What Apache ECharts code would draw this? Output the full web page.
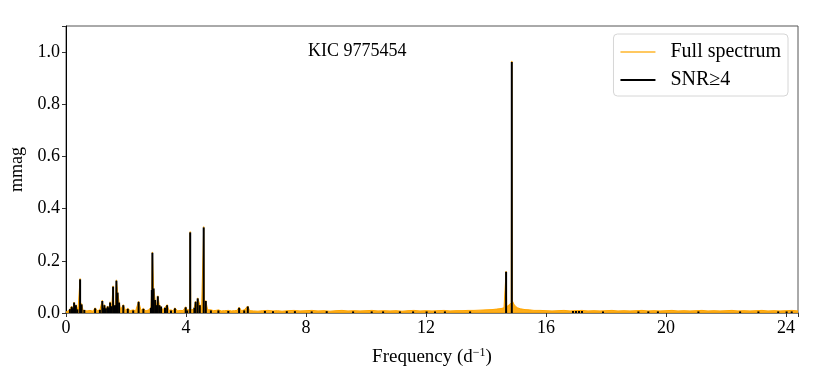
<!DOCTYPE html>
<html>
<head>
<meta charset="utf-8">
<title>KIC 9775454</title>
<script src="https://cdn.jsdelivr.net/npm/echarts@6.0.0/dist/echarts.min.js"></script>
<style>
  html, body { margin: 0; padding: 0; background: #fff; }
  #chart { width: 830px; height: 369px; }
</style>
</head>
<body>
<div id="chart"></div>
<script>
// full amplitude spectrum (frequency in d^-1, amplitude in mmag)
const fullFreq = [
  0.00, 0.10, 0.19, 0.23, 0.27, 0.30, 0.33, 0.40, 0.45, 0.47, 0.49, 0.52, 0.57, 0.61, 0.70, 0.80, 0.90,
  0.97, 1.05, 1.13, 1.21, 1.25, 1.28, 1.33, 1.39, 1.43, 1.47, 1.52, 1.55, 1.57, 1.59, 1.64, 1.66, 1.68, 1.72,
  1.77, 1.82, 1.91, 1.98, 2.06, 2.14, 2.24, 2.32, 2.42, 2.50, 2.58, 2.66, 2.75, 2.83, 2.86, 2.88,
  2.92, 2.97, 3.01, 3.06, 3.11, 3.17, 3.23, 3.30, 3.37, 3.43, 3.50, 3.57, 3.63, 3.72, 3.80, 3.90,
  3.99, 4.04, 4.09, 4.12, 4.14, 4.16, 4.19, 4.26, 4.32, 4.36, 4.39, 4.46, 4.52, 4.57, 4.59, 4.61, 4.66, 4.72, 4.83,
  4.92, 5.00, 5.08, 5.18, 5.28, 5.41, 5.52, 5.62, 5.70, 5.77, 5.85, 5.94, 6.00, 6.06, 6.12, 6.25,
  6.40, 6.55, 6.73, 6.90, 7.05, 7.20, 7.40, 7.60, 7.80, 8.00, 8.20, 8.40, 8.60, 8.80, 9.00, 9.20,
  9.40, 9.60, 9.80, 10.00, 10.20, 10.40, 10.60, 10.80, 11.00, 11.20, 11.40, 11.60, 11.80, 12.00,
  12.20, 12.40, 12.60, 12.80, 13.00, 13.20, 13.40, 13.60, 13.80, 14.00, 14.20, 14.35, 14.50, 14.60,
  14.65, 14.67, 14.69, 14.73, 14.78, 14.84, 14.86, 14.88, 14.93, 14.98, 15.05, 15.15, 15.30, 15.45, 15.60, 15.80,
  16.00, 16.20, 16.40, 16.60, 16.80, 17.00, 17.20, 17.40, 17.60, 17.80, 18.00, 18.20, 18.40, 18.60,
  18.80, 19.00, 19.20, 19.40, 19.60, 19.80, 20.00, 20.20, 20.40, 20.60, 20.80, 21.00, 21.20, 21.40,
  21.60, 21.80, 22.00, 22.20, 22.40, 22.60, 22.80, 23.00, 23.20, 23.40, 23.60, 23.80, 24.00, 24.20,
  24.40
];
const fullAmp = [
  0.004, 0.010, 0.026, 0.012, 0.042, 0.015, 0.032, 0.012, 0.014, 0.132, 0.015, 0.036, 0.010, 0.014, 0.008, 0.010, 0.007,
  0.020, 0.009, 0.012, 0.049, 0.014, 0.032, 0.012, 0.027, 0.014, 0.043, 0.020, 0.022, 0.104, 0.030, 0.020, 0.024, 0.127, 0.081,
  0.042, 0.012, 0.032, 0.010, 0.018, 0.009, 0.012, 0.008, 0.045, 0.010, 0.018, 0.008, 0.012, 0.020, 0.090, 0.234,
  0.096, 0.052, 0.020, 0.066, 0.032, 0.027, 0.012, 0.022, 0.032, 0.010, 0.012, 0.008, 0.020, 0.008, 0.010, 0.009,
  0.024, 0.012, 0.010, 0.012, 0.312, 0.012, 0.012, 0.014, 0.045, 0.020, 0.058, 0.032, 0.012, 0.014, 0.331, 0.015, 0.048, 0.012, 0.012,
  0.009, 0.010, 0.012, 0.008, 0.009, 0.010, 0.008, 0.009, 0.010, 0.022, 0.009, 0.012, 0.010, 0.027, 0.009, 0.008,
  0.007, 0.009, 0.010, 0.008, 0.009, 0.007, 0.009, 0.010, 0.008, 0.009, 0.010, 0.008, 0.009, 0.007, 0.009, 0.010,
  0.008, 0.009, 0.008, 0.009, 0.010, 0.008, 0.009, 0.008, 0.009, 0.007, 0.009, 0.010, 0.008, 0.009,
  0.008, 0.009, 0.010, 0.008, 0.009, 0.009, 0.010, 0.010, 0.011, 0.012, 0.013, 0.015, 0.017, 0.020,
  0.022, 0.160, 0.024, 0.028, 0.032, 0.040, 0.966, 0.046, 0.034, 0.026, 0.020, 0.016, 0.013, 0.012, 0.010, 0.010,
  0.009, 0.008, 0.009, 0.010, 0.008, 0.009, 0.010, 0.008, 0.009, 0.008, 0.009, 0.010, 0.008, 0.009,
  0.008, 0.009, 0.010, 0.008, 0.009, 0.008, 0.009, 0.010, 0.008, 0.009, 0.008, 0.009, 0.010, 0.008,
  0.009, 0.008, 0.009, 0.010, 0.008, 0.009, 0.008, 0.009, 0.010, 0.008, 0.009, 0.008, 0.009, 0.010,
  0.008
];

// peaks with SNR >= 4
const snrFreq = [
  0.13, 0.19, 0.23, 0.27, 0.33, 0.38, 0.47, 0.52, 0.61, 0.97, 1.13, 1.21, 1.25, 1.28, 1.33, 1.39,
  1.43, 1.47, 1.52, 1.57, 1.61, 1.64, 1.68, 1.72, 1.77, 1.91, 2.06, 2.24, 2.42, 2.58, 2.83, 2.86,
  2.88, 2.92, 2.97, 3.01, 3.06, 3.11, 3.17, 3.30, 3.37, 3.50, 3.63, 3.99, 4.04, 4.14, 4.28, 4.32,
  4.39, 4.46, 4.59, 4.66, 4.83, 5.08, 5.41, 5.77, 5.94, 6.06, 6.63, 6.90, 7.36, 7.63, 8.19, 8.69,
  9.57, 10.19, 10.57, 11.13, 11.57, 12.02, 12.30, 12.63, 13.47, 14.67, 14.86, 16.90, 17.00, 17.10,
  17.20, 17.90, 19.08, 19.41, 19.73, 21.08, 22.47, 23.08, 23.74, 24.02, 24.19
];
const snrAmp = [
  0.015, 0.024, 0.018, 0.040, 0.030, 0.014, 0.129, 0.033, 0.012, 0.018, 0.012, 0.046, 0.020, 0.030, 0.018, 0.025,
  0.020, 0.040, 0.026, 0.101, 0.028, 0.030, 0.124, 0.078, 0.040, 0.030, 0.016, 0.010, 0.043, 0.016, 0.020, 0.088,
  0.231, 0.094, 0.050, 0.030, 0.064, 0.030, 0.025, 0.020, 0.030, 0.010, 0.018, 0.022, 0.010, 0.309, 0.020, 0.043,
  0.056, 0.030, 0.328, 0.046, 0.010, 0.010, 0.008, 0.020, 0.010, 0.025, 0.008, 0.007, 0.007, 0.007, 0.006, 0.007,
  0.006, 0.006, 0.006, 0.006, 0.006, 0.006, 0.006, 0.006, 0.006, 0.158, 0.962, 0.008, 0.008, 0.008,
  0.008, 0.006, 0.006, 0.006, 0.006, 0.006, 0.006, 0.006, 0.006, 0.006, 0.006
];

const xTicks = [0, 4, 8, 12, 16, 20, 24];
const yTicks = [0, 0.2, 0.4, 0.6, 0.8, 1.0];

const serif = "Liberation Serif";

const chart = echarts.init(document.getElementById("chart"));

chart.setOption({
  animation: false,
  backgroundColor: "#fff",
  textStyle: { fontFamily: serif },
  title: {
    text: "KIC 9775454",
    left: 303,
    top: 37,
    textStyle: { fontFamily: serif, fontSize: 18, fontWeight: "normal", color: "#000" },
  },
  grid: {
    left: 66,
    right: 32,
    top: 26,
    bottom: 56,
    outerBoundsMode: "none",
    containLabel: false,
    show: true,
    borderColor: "#555",
    borderWidth: 1,
  },
  legend: {
    orient: "vertical",
    right: 42,
    top: 34,
    padding: [8, 7, 6, 7],
    itemGap: 8,
    itemWidth: 35,
    itemHeight: 2,
    backgroundColor: "#fff",
    borderColor: "#d6d6d6",
    borderWidth: 1,
    borderRadius: 4,
    textStyle: { fontFamily: serif, fontSize: 20, color: "#000", padding: [0, 0, 0, 10] },
    data: [
      { name: "Full spectrum", icon: "rect", itemStyle: { color: "#FFC860" } },
      { name: "SNR\u22654", icon: "rect", itemStyle: { color: "#000" } },
    ],
  },
  xAxis: {
    type: "value",
    min: 0,
    max: 24.4,
    interval: 4,
    name: "Frequency (d{sup|\u22121})",
    nameLocation: "middle",
    nameGap: 34,
    nameTextStyle: {
      fontFamily: serif,
      fontSize: 19,
      color: "#000",
      rich: { sup: { fontFamily: serif, fontSize: 12, verticalAlign: "top", padding: [0, 0, 8, 0] } },
    },
    axisLine: { show: true, onZero: false, lineStyle: { color: "#7a7a7a", width: 2 } },
    axisTick: { show: true, length: 4, lineStyle: { color: "#333" } },
    axisLabel: {
      fontFamily: serif,
      fontSize: 18,
      color: "#000",
      margin: 6,
      formatter: (v) => (xTicks.includes(v) ? String(v) : ""),
    },
    splitLine: { show: false },
  },
  yAxis: {
    type: "value",
    min: 0,
    max: 1.1,
    interval: 0.2,
    name: "mmag",
    nameLocation: "middle",
    nameGap: 40,
    nameTextStyle: { fontFamily: serif, fontSize: 18, color: "#000" },
    axisLine: { show: true, lineStyle: { color: "#000", width: 1 } },
    axisTick: { show: true, length: 4, lineStyle: { color: "#333" } },
    axisLabel: {
      fontFamily: serif,
      fontSize: 18,
      color: "#000",
      margin: 6,
      formatter: (v) => (yTicks.some((t) => Math.abs(t - v) < 1e-6) ? v.toFixed(1) : ""),
    },
    splitLine: { show: false },
  },
  series: [
    {
      name: "Full spectrum",
      type: "line",
      symbol: "none",
      smooth: false,
      color: "#FFA500",
      lineStyle: { color: "#FFA500", width: 1 },
      areaStyle: { color: "#FFA500", opacity: 0.9 },
      data: fullFreq.map((f, i) => [f, fullAmp[i]]),
      z: 2,
    },
    {
      name: "SNR\u22654",
      type: "bar",
      barWidth: 2,
      color: "#000",
      itemStyle: { color: "#000" },
      data: snrFreq.map((f, i) => [f, snrAmp[i]]),
      z: 3,
    },
  ],
});
</script>
</body>
</html>
